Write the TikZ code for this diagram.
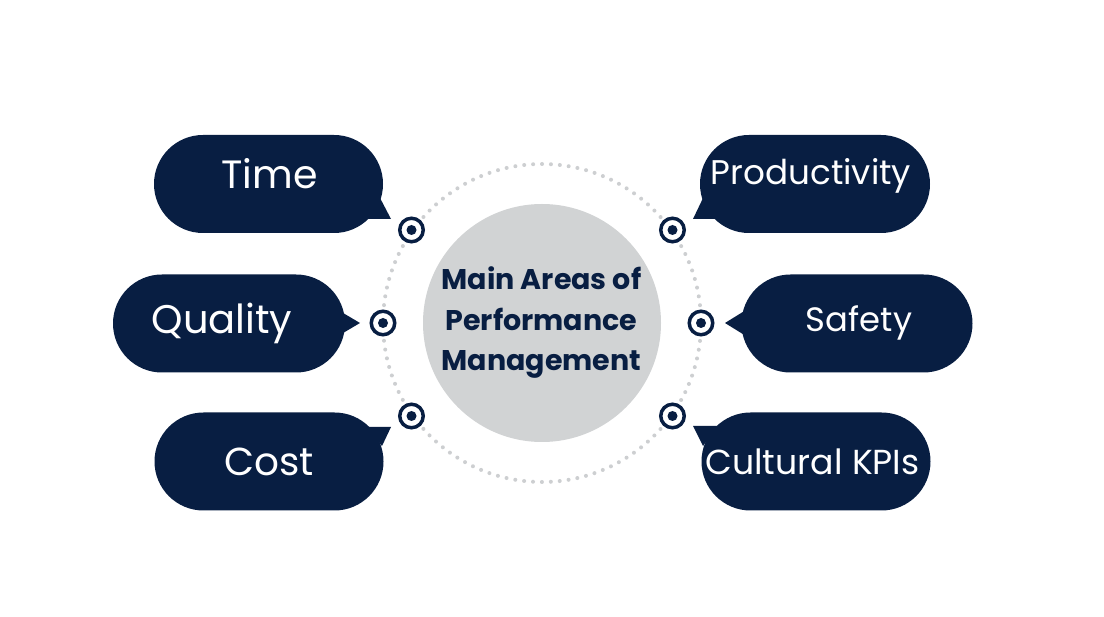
\documentclass[tikz,border=0pt]{standalone}
\usepackage{fontspec}
\setmainfont{Poppins}
\begin{document}
\begin{tikzpicture}[x=1pt,y=-1pt]
\definecolor{navy}{RGB}{8,30,66}
\definecolor{disk}{RGB}{209,211,212}
\definecolor{dotc}{RGB}{205,207,209}
\tikzset{
 bubble/.style={fill=navy, rounded corners=49pt, minimum width=229pt, minimum height=98pt, inner sep=0pt},
 btext/.style={text=white, font=\fontsize{#1}{40}\selectfont, inner sep=0pt},
 target/.style={circle, draw=navy, line width=3.5pt, fill=white, minimum size=23.5pt, inner sep=0pt},
 tdot/.style={circle, fill=navy, minimum size=10pt, inner sep=0pt},
 tail/.style={fill=navy},
 hubtext/.style={text=navy, font=\bfseries\fontsize{28.5}{40.5}\selectfont, align=center, inner sep=0pt},
}
\useasboundingbox[fill=white] (0,0) rectangle (1104,617);

% dotted ring
\draw[dotc, line width=4pt, line cap=round, dash pattern=on 0pt off 8.92pt] (542,323) circle (159pt);
% hub
\node[circle, fill=disk, minimum size=238pt, inner sep=0pt] (hub) at (542,323) {};
\node[hubtext] (title) at (541.5,323) {Main Areas of\\Performance\\Management};

% bubbles
\node[bubble] (time) at (268.5,184) {};
\node[bubble, minimum width=232pt] (quality) at (229,323.5) {};
\node[bubble] (cost) at (269,461.5) {};
\node[bubble, minimum width=230pt] (prod) at (815,184) {};
\node[bubble, minimum width=231pt] (safety) at (857,323.5) {};
\node[bubble] (cult) at (816,461.5) {};

% tails
\fill[tail] (379,196) -- (391,219) -- (368,219) -- cycle;
\fill[tail] (338,310) -- (360,323) -- (338,336) -- cycle;
\fill[tail] (366,427) -- (391,427) -- (382,446) -- cycle;
\fill[tail] (704,196) -- (693,219) -- (718,219) -- cycle;
\fill[tail] (746,310) -- (725,323) -- (746,336) -- cycle;
\fill[tail] (718,426) -- (693,426) -- (703,446) -- cycle;

% labels
\node[btext=39.5] (timet) at (269.5,174) {Time};
\node[btext=40] (qualityt) at (222,323) {Quality};
\node[btext=39] (costt) at (269,462) {Cost};
\node[btext=34.2] (prodt) at (811,176) {Productivity};
\node[btext=33.8] (safetyt) at (859,323) {Safety};
\node[btext=34.7] (cultt) at (812.5,462) {Cultural KPIs};

% targets
\foreach \n/\p in {t1/{(411.5,230)}, t2/{(383,323)}, t3/{(411.5,416)}, t4/{(672.5,230)}, t5/{(701,323)}, t6/{(672.5,416)}}{
  \node[target] (\n) at \p {};
  \node[tdot] (\n d) at (\n) {};
}
\end{tikzpicture}
\end{document}
